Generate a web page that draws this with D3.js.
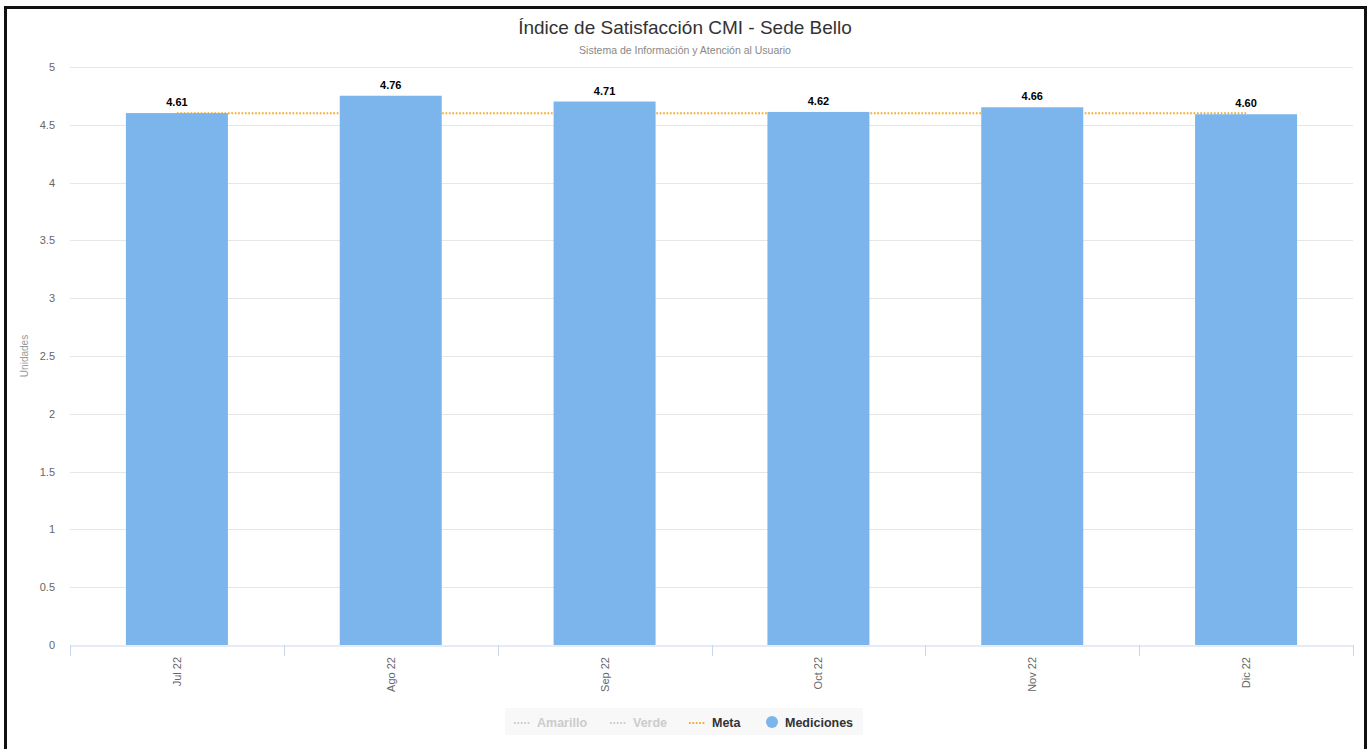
<!DOCTYPE html>
<html><head><meta charset="utf-8">
<script src="https://cdn.jsdelivr.net/npm/d3@7/dist/d3.min.js"></script>
<style>
html,body{margin:0;padding:0;background:#fff;}
svg{display:block;font-family:"Liberation Sans",Arial,Helvetica,sans-serif;}
</style></head>
<body>
<svg id="chart" width="1371" height="749"></svg>
<script>
const categories = ["Jul 22","Ago 22","Sep 22","Oct 22","Nov 22","Dic 22"];
const mediciones = [4.61,4.76,4.71,4.62,4.66,4.60];
const meta = [4.6,4.6,4.6,4.6,4.6,4.6];
const yTicks = [0,0.5,1,1.5,2,2.5,3,3.5,4,4.5,5];
const legendItems = ["Amarillo","Verde","Meta","Mediciones"];

const svg = d3.select("#chart");
const m = {left:70, right:1353, top:67, bottom:645};

// frame
svg.append("rect").attr("x",5.5).attr("y",7.5).attr("width",1360).attr("height",760)
  .attr("fill","none").attr("stroke","#111").attr("stroke-width",3);

svg.append("text").attr("x",685).attr("y",34).attr("text-anchor","middle")
  .attr("font-size",19).attr("fill","#333").text("Índice de Satisfacción CMI - Sede Bello");
svg.append("text").attr("x",685).attr("y",54).attr("text-anchor","middle")
  .attr("font-size",10.5).attr("fill","#888").text("Sistema de Información y Atención al Usuario");

const x = d3.scaleBand().domain(categories).range([m.left,m.right]).paddingInner(0.523).paddingOuter(0.2615);
const xb = d3.scaleBand().domain(categories).range([m.left,m.right]);
const y = d3.scaleLinear().domain([0,5]).range([m.bottom,m.top]);

// grid
svg.append("g").selectAll("line").data(yTicks.filter(t=>t>0)).join("line")
  .attr("x1",m.left).attr("x2",m.right).attr("y1",d=>Math.round(y(d))+0.5).attr("y2",d=>Math.round(y(d))+0.5)
  .attr("stroke","#e6e6e6").attr("stroke-width",1);

// y axis labels
const ya = svg.append("g").attr("transform",`translate(${m.left-15},0)`)
  .call(d3.axisLeft(y).tickValues(yTicks).tickSize(0).tickPadding(0).tickFormat(d=>String(d)));
ya.select(".domain").remove();
ya.selectAll("text").attr("font-size",11).attr("fill","#666").attr("font-family","Liberation Sans, Arial, sans-serif");

svg.append("text").attr("transform",`translate(28,${(m.top+m.bottom)/2}) rotate(-90)`)
  .attr("text-anchor","middle").attr("font-size",10).attr("fill","#999").text("Unidades");

// meta line (behind bars)
const line = d3.line().x((d,i)=>xb(categories[i])+xb.bandwidth()/2).y(d=>y(d));
svg.append("path").datum(meta).attr("d",line).attr("fill","none")
  .attr("stroke","#f5ab2a").attr("stroke-width",2).attr("stroke-dasharray","1.7,1.7");

// bars
svg.append("g").selectAll("rect").data(mediciones).join("rect")
  .attr("x",(d,i)=>x(categories[i])).attr("width",x.bandwidth())
  .attr("y",d=>y(d)+1).attr("height",d=>y(0)-y(d)-1).attr("fill","#7cb5ec");

// data labels
svg.append("g").selectAll("text").data(mediciones).join("text")
  .attr("x",(d,i)=>x(categories[i])+x.bandwidth()/2).attr("y",d=>y(d)-6)
  .attr("text-anchor","middle").attr("font-size",11).attr("font-weight","bold").attr("fill","#000")
  .text(d=>d.toFixed(2));

// x axis
const xa = svg.append("g").attr("transform",`translate(0,${m.bottom+0.5})`)
  .call(d3.axisBottom(xb).tickSize(0).tickPadding(0));
xa.select(".domain").attr("stroke","#ccd6eb");
xa.selectAll("text").remove();
const bounds = categories.map(c=>xb(c)).concat([m.right]);
svg.append("g").selectAll("line").data(bounds).join("line")
  .attr("x1",d=>Math.round(d)+0.5).attr("x2",d=>Math.round(d)+0.5)
  .attr("y1",m.bottom).attr("y2",m.bottom+11).attr("stroke","#ccd6eb");
svg.append("g").selectAll("text").data(categories).join("text")
  .attr("transform",d=>`translate(${xb(d)+xb.bandwidth()/2+4},${m.bottom+12}) rotate(-90)`)
  .attr("text-anchor","end").attr("font-size",11).attr("fill","#666").text(d=>d);

// legend
const lg = svg.append("g");
lg.append("rect").attr("x",505).attr("y",708).attr("width",358).attr("height",27).attr("fill","#f8f8f8");
const lx = [514,610,689,766];
legendItems.forEach((name,i)=>{
  const hidden = i<2;
  const col = hidden ? "#ccc" : "#333";
  if(i<3){
    lg.append("line").attr("x1",lx[i]).attr("x2",lx[i]+16).attr("y1",723).attr("y2",723)
      .attr("stroke",hidden?"#ccc":"#f5ab2a").attr("stroke-width",2).attr("stroke-dasharray","1.7,1.7");
    lg.append("text").attr("x",lx[i]+23).attr("y",727).attr("font-size",12.5).attr("font-weight","bold")
      .attr("fill",col).text(name);
  } else {
    lg.append("circle").attr("cx",lx[i]+6).attr("cy",722).attr("r",6).attr("fill","#7cb5ec");
    lg.append("text").attr("x",lx[i]+19).attr("y",727).attr("font-size",12.5).attr("font-weight","bold")
      .attr("fill",col).text(name);
  }
});
</script>
</body></html>
